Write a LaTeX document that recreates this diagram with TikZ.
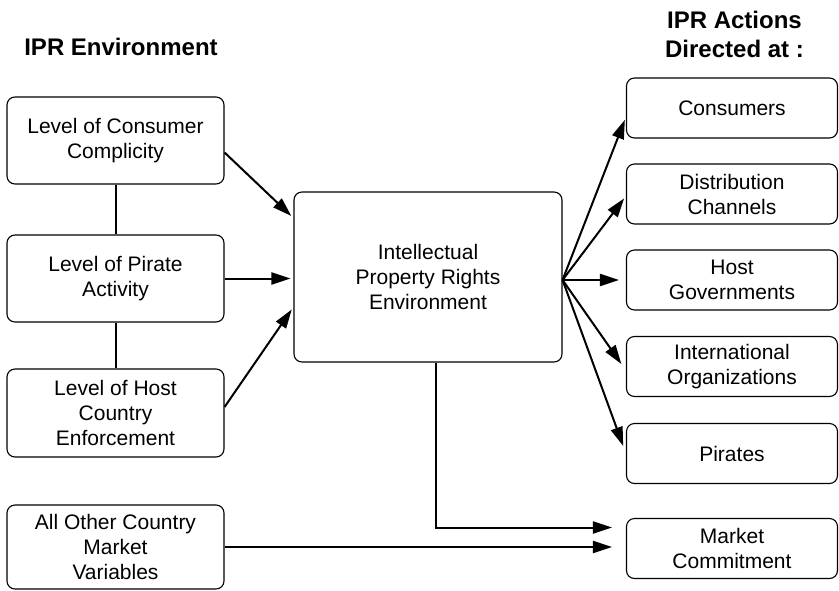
\documentclass[tikz,border=0pt]{standalone}
\usepackage{fontspec}
\setmainfont{Liberation Sans}
\usetikzlibrary{arrows.meta}

\begin{document}
\begin{tikzpicture}[x=1pt,y=-1pt,
        box/.style={draw,line width=1.1pt,rounded corners=8pt,align=center,inner sep=0pt,
            font=\fontsize{21}{25}\selectfont},
        envbox/.style={box,minimum width=217pt,minimum height=87pt},
        actbox/.style={box,minimum width=211pt,minimum height=60pt},
        link/.style={line width=2pt},
        arr/.style={line width=2pt,-{Triangle[length=19pt,width=12pt]},shorten >=5pt},
        heading/.style={font=\fontsize{24}{29}\selectfont\bfseries,align=center}]
        \useasboundingbox (0,0) rectangle (839,590);

        % headings
        \node[heading,anchor=base] (envhead) at (121,55) {IPR Environment};
        \node[heading] (acthead) at (734.5,34) {IPR Actions\\Directed at :};

        % environment
        \node[envbox] (complicity) at (115.5,140.5) {Level of Consumer\\Complicity};
        \node[envbox] (activity) at (115.5,278.5) {Level of Pirate\\Activity};
        \node[envbox,minimum height=88pt] (enforce) at (115.5,413) {Level of Host\\Country\\Enforcement};
        \node[envbox,minimum height=84pt] (other) at (115.5,547) {All Other Country\\Market\\Variables};
        \node[box,minimum width=268pt,minimum height=170pt] (ipr) at (428,277)
            {Intellectual\\Property Rights\\Environment};

        % actions
        \node[actbox] (consumers) at (732,108) {Consumers};
        \node[actbox] (channels) at (732,194) {Distribution\\Channels};
        \node[actbox] (govs) at (732,280) {Host\\Governments};
        \node[actbox] (orgs) at (732,366.5) {International\\Organizations};
        \node[actbox] (pirates) at (732,453.5) {Pirates};
        \node[actbox] (market) at (732,548.5) {Market\\Commitment};

        % links between environment boxes
        \draw[link] (complicity) -- (activity);
        \draw[link] (activity) -- (enforce);

        % into the environment
        \draw[arr,shorten >=3pt] ([yshift=-12pt]complicity.east) -- ([yshift=59pt]ipr.west);
        \draw[arr,shorten >=3pt] (activity.east) -- (ipr.west |- activity.east);
        \draw[arr,shorten >=3pt] ([yshift=6pt]enforce.east) -- ([yshift=-30pt]ipr.west);

        % fan of actions
        \coordinate (fan) at ([yshift=-3pt]ipr.east);
        \draw[arr,shorten >=3pt] (fan) -- ([yshift=-9pt]consumers.west);
        \draw[arr,shorten >=3pt] (fan) -- ([yshift=-2pt]channels.west);
        \draw[arr,shorten >=7pt] (fan) -- (govs.west);
        \draw[arr,shorten >=8pt] (fan) -- ([yshift=-4pt]orgs.west);
        \draw[arr,shorten >=8pt] (fan) -- (pirates.west);

        % market commitment
        \draw[arr,shorten >=14pt] ([xshift=8pt]ipr.south) |- ([yshift=21pt]market.west);
        \draw[arr,shorten >=14pt] (other.east) -- (market.west |- other.east);
    \end{tikzpicture}
\end{document}
